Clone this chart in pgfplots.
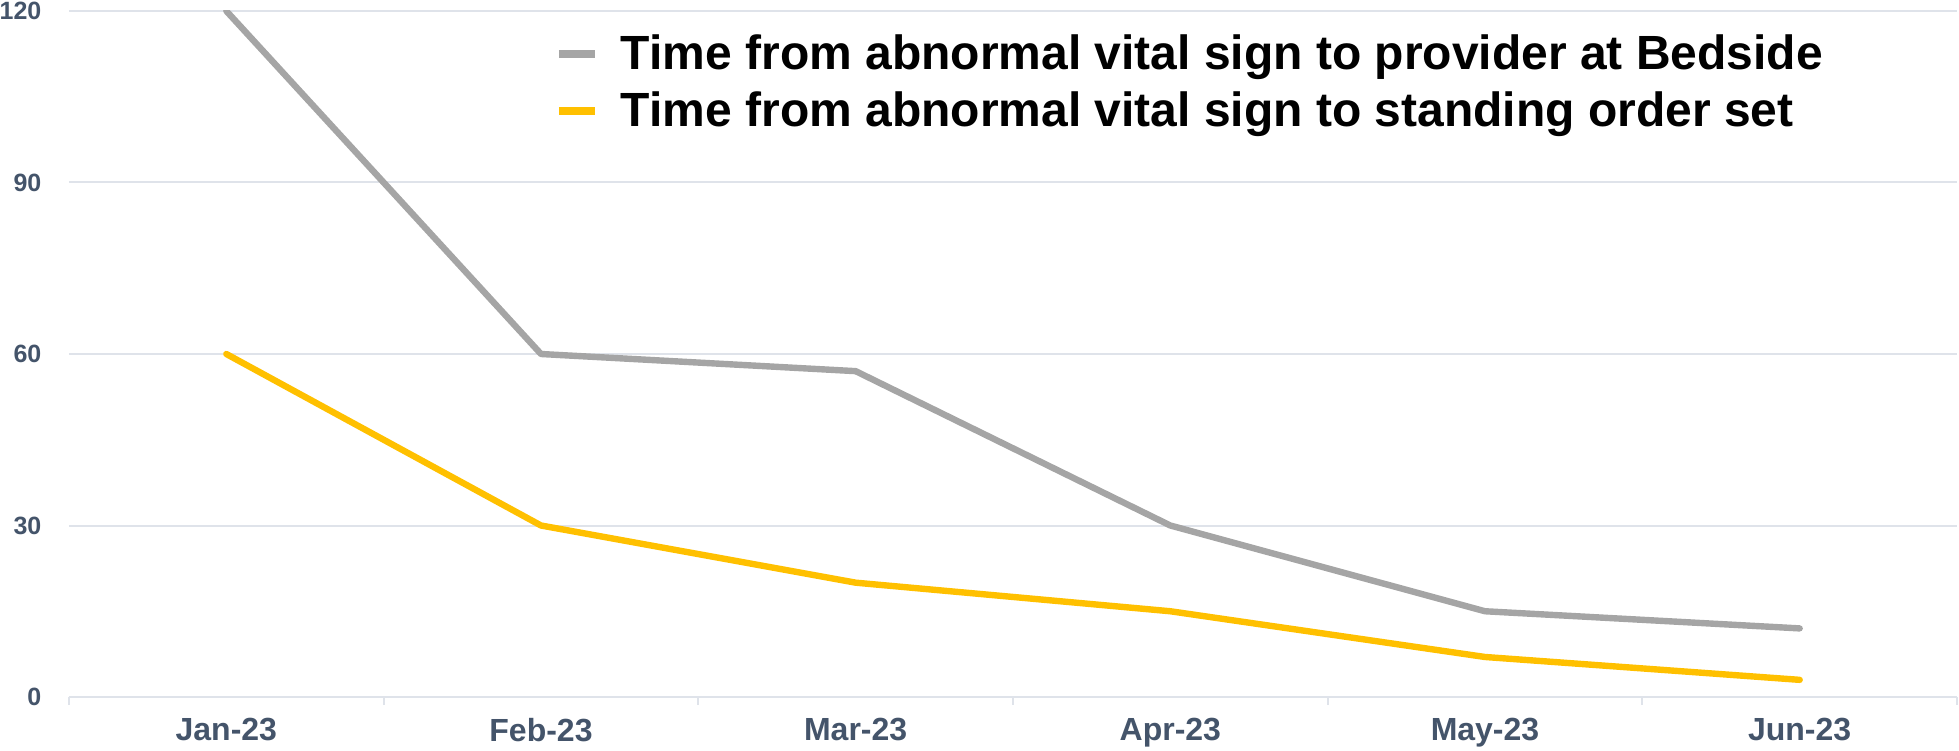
\documentclass[border=0pt]{standalone}
\usepackage{pgfplots}
\pgfplotsset{compat=1.18}
\usepackage{fontspec}
\setmainfont{Liberation Sans}
\definecolor{lgray}{HTML}{A5A5A5}
\definecolor{lyellow}{HTML}{FFC000}
\definecolor{gridc}{HTML}{DFE3EA}
\definecolor{labc}{HTML}{44546A}
\begin{document}
\begin{tikzpicture}
\path[use as bounding box] (-34.5pt,-26.5pt) rectangle (945pt,348.5pt);
\begin{axis}[
  scale only axis,
  width=944pt, height=343pt,
  xmin=-0.5, xmax=5.5,
  ymin=0, ymax=120,
  axis lines*=left,
  y axis line style={draw=none},
  x axis line style={draw=gridc, line width=1pt},
  xtick={0,...,5},
  xticklabels={Jan-23,Feb-23,Mar-23,Apr-23,May-23,Jun-23},
  minor xtick={-0.5,0.5,...,5.5},
  major x tick style={draw=none},
  minor x tick style={draw=gridc, line width=1pt},
  minor tick length=4pt,
  tick align=outside,
  ytick={0,30,60,90,120},
  ytick style={draw=none},
  ymajorgrids,
  grid style={draw=gridc, line width=1pt},
  xticklabel style={font=\fontsize{16}{18}\selectfont\bfseries, text=labc, yshift=-3pt},
  yticklabel style={font=\fontsize{12.5}{14}\selectfont\bfseries, text=labc, xshift=-6pt},
  /pgf/number format/assume math mode=true,
  legend style={draw=none, fill=none, at={(0.254,1)}, anchor=north west, yshift=-7.75pt,
    font=\fontsize{24}{28}\selectfont\bfseries, row sep=5.5pt,
    nodes={inner xsep=6pt}},
  legend cell align=left,
  legend image code/.code={\draw[#1, line width=4pt, line cap=butt] (0pt,0pt) -- (18pt,0pt);
    \path[draw=none, fill=none] (0pt,0pt) -- (25pt,0pt);},
]
\addplot[lgray, line width=3.2pt, line cap=round, line join=round] coordinates {(0,120) (1,60) (2,57) (3,30) (4,15) (5,12)};
\addlegendentry{Time from abnormal vital sign to provider at Bedside}
\addplot[lyellow, line width=3.2pt, line cap=round, line join=round] coordinates {(0,60) (1,30) (2,20) (3,15) (4,7) (5,3)};
\addlegendentry{Time from abnormal vital sign to standing order set}
\end{axis}
\end{tikzpicture}
\end{document}
